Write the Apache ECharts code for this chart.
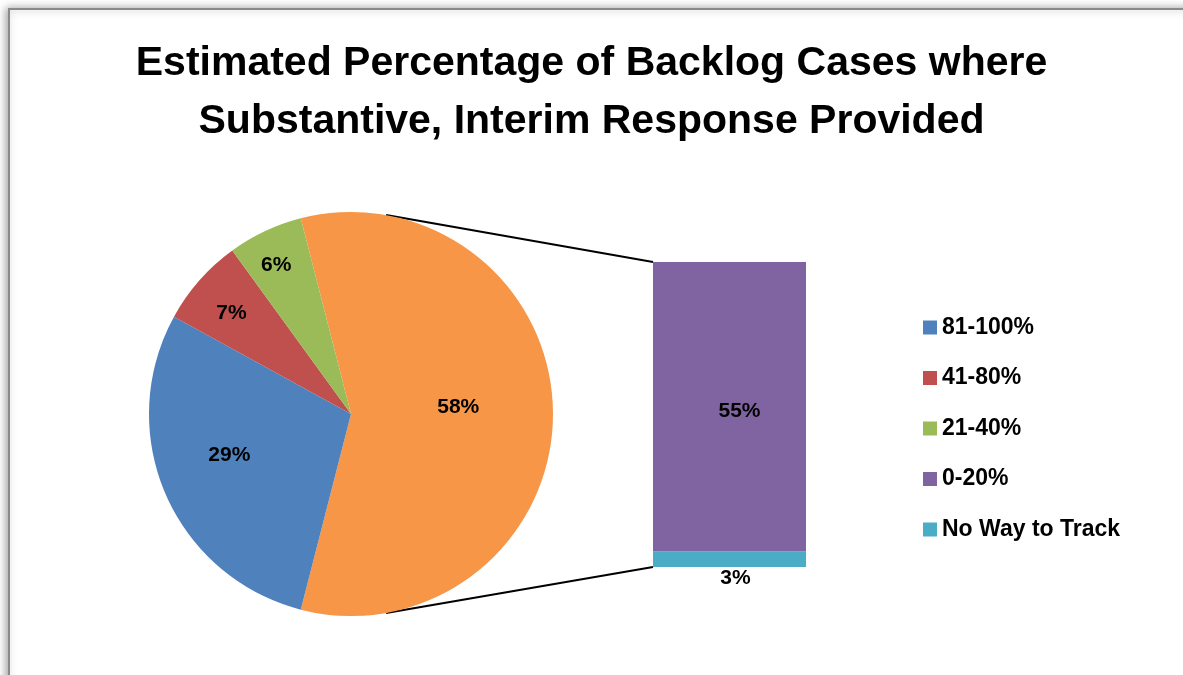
<!DOCTYPE html>
<html>
<head>
<meta charset="utf-8">
<script src="https://cdn.jsdelivr.net/npm/echarts@6/dist/echarts.min.js"></script>
<style>
  html, body { margin: 0; padding: 0; background: #fff; }
  #chart { width: 1183px; height: 675px; }
</style>
</head>
<body>
<div id="chart"></div>
<script>
// pie slices (first one is the "other" slice that gets split into the bar)
const pieNames = ['Other', '81-100%', '41-80%', '21-40%'];
const pieValues = [58, 29, 7, 6];
// bar (breakdown of the "other" slice), bottom to top
const barNames = ['No Way to Track', '0-20%'];
const barValues = [3, 55];
const legendNames = ['81-100%', '41-80%', '21-40%', '0-20%', 'No Way to Track'];

const colors = {
  'Other': '#F79646',
  '81-100%': '#4F81BD',
  '41-80%': '#C0504D',
  '21-40%': '#9BBB59',
  '0-20%': '#8064A2',
  'No Way to Track': '#4BACC6'
};
// how far out along the radius each pie label sits, plus a small pixel nudge (Excel-ish placement)
const labelRatio = [0.53, 0.59, 0.76, 0.81];
const labelNudge = [[-3, -7], [-9, -8], [-1, 4], [-3, 4]];

const font = '"Liberation Sans", Arial, sans-serif';
const cx = 351, cy = 414, R = 202;
const barLeft = 653, barTop = 262, barW = 153, barH = 305;

window.onload = () => {
  const EC = echarts.init(document.getElementById('chart'));

  const otherDeg = pieValues[0] / pieValues.reduce((a, b) => a + b, 0) * 360;
  const connA = 80 * Math.PI / 180;
  const px = cx + R * Math.cos(connA);
  const pyTop = cy - R * Math.sin(connA);
  const pyBot = cy + R * Math.sin(connA);

  const option = {
    backgroundColor: '#fff',
    animation: false,
    title: {
      text: 'Estimated Percentage of Backlog Cases where\nSubstantive, Interim Response Provided',
      left: 'center',
      top: 30,
      textStyle: {
        fontFamily: font, fontWeight: 'bold', fontSize: 41, lineHeight: 58, color: '#000'
      }
    },
    legend: {
      orient: 'vertical',
      left: 918,
      top: 311,
      data: legendNames,
      itemWidth: 14,
      itemHeight: 14,
      itemGap: 27.5,
      icon: 'rect',
      textStyle: { fontFamily: font, fontWeight: 'bold', fontSize: 23, lineHeight: 22, color: '#000' }
    },
    grid: { left: barLeft, top: barTop, width: barW, height: barH },
    xAxis: { type: 'category', data: ['x'], show: false },
    yAxis: { type: 'value', min: 0, max: barValues.reduce((a, b) => a + b, 0), show: false },
    graphic: [
      {
        type: 'rect', z: -10,
        shape: { x: 9, y: 9, width: 1300, height: 800 },
        style: { fill: '#fff', stroke: '#8a8a8a', lineWidth: 2,
                 shadowBlur: 8, shadowColor: 'rgba(0,0,0,0.35)', shadowOffsetX: -2, shadowOffsetY: 0 }
      },
      {
        type: 'line', z: 1,
        shape: { x1: px, y1: pyTop, x2: barLeft, y2: barTop },
        style: { stroke: '#000', lineWidth: 2 }
      },
      {
        type: 'line', z: 1,
        shape: { x1: px, y1: pyBot, x2: barLeft, y2: barTop + barH },
        style: { stroke: '#000', lineWidth: 2 }
      }
    ],
    series: [
      {
        type: 'pie',
        center: [cx, cy],
        radius: R,
        startAngle: otherDeg / 2,
        clockwise: true,
        data: pieNames.map((n, i) => ({ name: n, value: pieValues[i], itemStyle: { color: colors[n] } })),
        label: {
          position: 'inner',
          formatter: '{c}%',
          fontFamily: font, fontWeight: 'bold', fontSize: 21, color: '#000'
        },
        labelLayout: (p) => {
          const lx = p.labelRect.x + p.labelRect.width / 2;
          const ly = p.labelRect.y + p.labelRect.height / 2;
          const k = labelRatio[p.dataIndex] / 0.5 - 1;
          const nd = labelNudge[p.dataIndex];
          return { dx: (lx - cx) * k + nd[0], dy: (ly - cy) * k + nd[1] };
        },
        emphasis: { disabled: true }
      },
      ...barNames.map((n, i) => ({
        type: 'bar',
        name: n,
        stack: 'other',
        barWidth: '100%',
        data: [barValues[i]],
        itemStyle: { color: colors[n] },
        label: {
          show: true,
          position: i === 0 ? 'bottom' : 'inside',
          distance: 1,
          offset: i === 0 ? [6, 0] : [10, 5],
          formatter: '{c}%',
          fontFamily: font, fontWeight: 'bold', fontSize: 21, color: '#000'
        }
      }))
    ]
  };
  EC.setOption(option);
};
</script>
</body>
</html>
